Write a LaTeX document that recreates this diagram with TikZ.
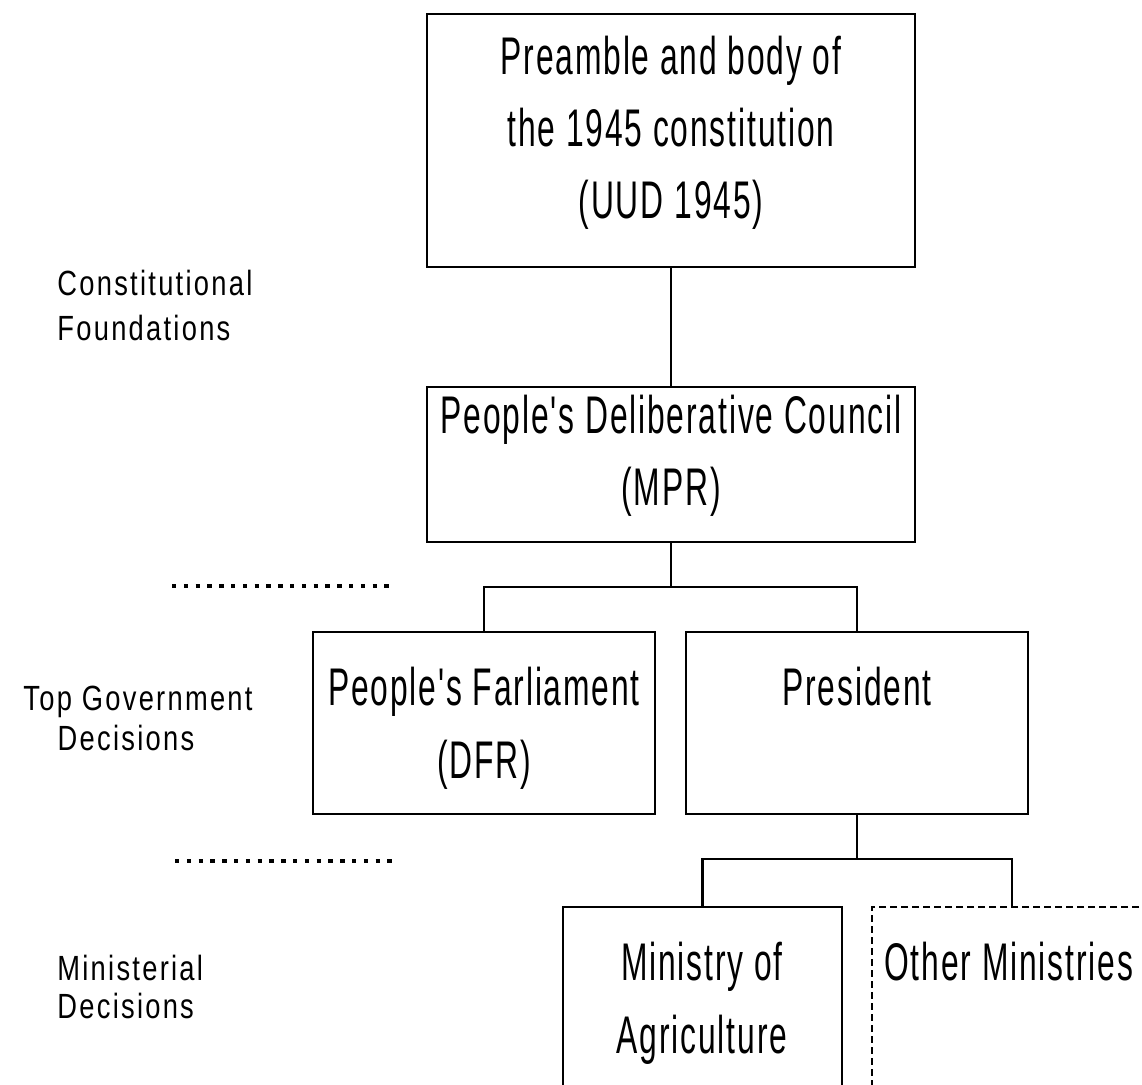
\documentclass[tikz,border=0pt]{standalone}
\usepackage{fontspec}
\newfontfamily\boxfont[FakeStretch=0.6,LetterSpace=3.5]{Liberation Sans}
\newfontfamily\labfont[FakeStretch=0.78,LetterSpace=6.5]{Liberation Sans}
\begin{document}
\begin{tikzpicture}[x=0.5pt,y=-0.5pt,
  box/.style={draw,line width=1.35pt,rectangle,inner sep=0pt},
  dashbox/.style={box,dash pattern=on 3.5pt off 2pt},
  btxt/.style={anchor=base,inner sep=0pt,font=\boxfont\fontsize{26.5}{30}\selectfont},
  ltxt/.style={anchor=base west,inner sep=0pt,font=\labfont\fontsize{17.5}{20}\selectfont},
  ltxtc/.style={ltxt,anchor=base},
  conn/.style={line width=1.35pt},
  sep/.style={line width=1.7pt,dash pattern=on 2.2pt off 3.7pt}]
\useasboundingbox (0,0) rectangle (1142,1084);
\clip (0,0) rectangle (1142,1084);
% boxes
\node[box,minimum width=244pt,minimum height=126.5pt] (top) at (671,140.5) {};
\node[box,minimum width=244pt,minimum height=77.5pt] (mpr) at (671,464.5) {};
\node[box,minimum width=171pt,minimum height=91pt] (parl) at (484,723) {};
\node[box,minimum width=171pt,minimum height=91pt] (pres) at (857,723) {};
\node[box,minimum width=139.5pt,minimum height=106.5pt] (min) at (702.5,1013.5) {};
\node[dashbox,minimum width=140pt,minimum height=106.5pt] (oth) at (1012,1013.5) {};
% box texts
\node[btxt] (top1) at (671,74) {Preamble and body of};
\node[btxt] (top2) at (671,146) {the 1945 constitution};
\node[btxt] (top3) at (671,218) {(UUD 1945)};
\node[btxt] (mpr1) at (671,433) {People's Deliberative Council};
\node[btxt] (mpr2) at (671,505) {(MPR)};
\node[btxt] (parl1) at (484,705) {People's Farliament};
\node[btxt] (parl2) at (484,778) {(DFR)};
\node[btxt] (pres1) at (857,705) {President};
\node[btxt] (min1) at (702,980) {Ministry of};
\node[btxt] (min2) at (702,1053) {Agriculture};
\node[btxt,anchor=base west] (oth1) at (884,980) {Other Ministries};
% side labels
\node[ltxt] (c1) at (57,295) {Constitutional};
\node[ltxt] (c2) at (57,340) {Foundations};
\node[ltxtc] (t1) at (138,710) {Top Government};
\node[ltxtc] (t2) at (126,750) {Decisions};
\node[ltxt] (m1) at (57,980) {Ministerial};
\node[ltxt] (m2) at (57,1018) {Decisions};
% separators
\draw[sep] (172,586) -- (395,586);
\draw[sep] (175,861) -- (392,861);
% connectors
\coordinate (j1) at (671,587);
\coordinate (j2) at (857,859);
\draw[conn] (top.south) -- (mpr.north);
\draw[conn] (mpr.south) -- (j1);
\draw[conn] (parl.north) |- (j1) -| (pres.north);
\draw[conn] (pres.south) -- (j2);
\draw[conn] (min.north) |- (j2) -| (oth.north);
\end{tikzpicture}
\end{document}
